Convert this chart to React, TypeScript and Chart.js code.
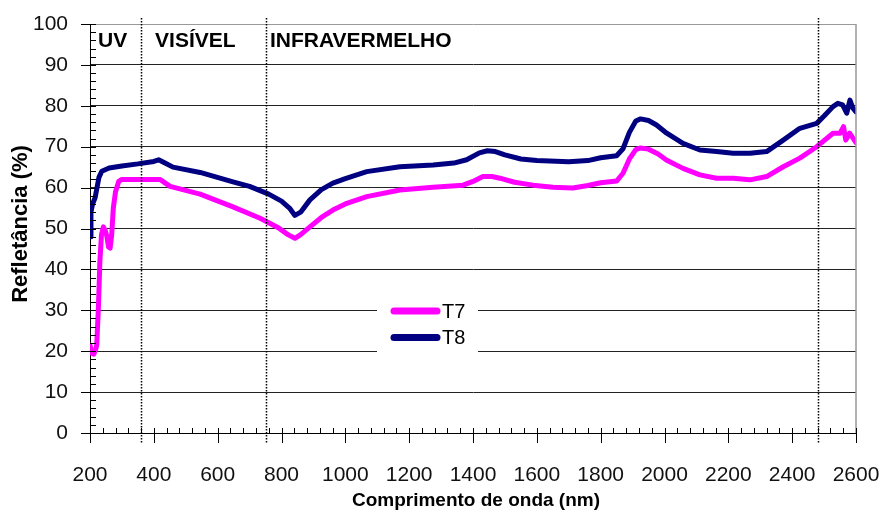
import React, { useEffect, useRef } from "react";
import { Chart, registerables } from "chart.js";

Chart.register(...registerables);

// ---- Data ----
const SERIES_LABELS = ["T7", "T8"];
const SERIES_COLORS = ["#FF00FF", "#000080"];

const T7_NM = [200, 205, 212, 218, 221, 226, 231, 236, 242, 248, 253, 258, 263, 268, 273, 280, 290, 300, 357, 419, 451, 545, 648, 733, 790, 820, 842, 860, 889, 925, 961, 1000, 1067, 1171, 1275, 1369, 1400, 1431, 1460, 1484, 1530, 1588, 1650, 1713, 1760, 1800, 1850, 1870, 1890, 1910, 1925, 1950, 1980, 2007, 2058, 2111, 2163, 2215, 2268, 2320, 2372, 2424, 2477, 2528, 2550, 2561, 2568, 2580, 2600];
const T7_R = [21.5, 19.5, 19.3, 20.5, 21.5, 30, 42, 48.5, 50.4, 49.5, 48, 45.5, 45.2, 48.5, 55, 59, 61.5, 62, 62, 62, 60.3, 58.4, 55.3, 52.5, 50.2, 48.5, 47.6, 48.5, 50.4, 52.7, 54.5, 56, 57.8, 59.4, 60.1, 60.6, 61.5, 62.7, 62.7, 62.3, 61.3, 60.6, 60.1, 59.9, 60.5, 61.2, 61.6, 63.5, 67, 69.3, 69.7, 69.4, 68.2, 66.7, 64.7, 63.1, 62.3, 62.3, 61.9, 62.7, 65.1, 67.2, 70, 73.3, 73.3, 74.9, 71.6, 73.3, 71];

const T8_NM = [200, 203, 208, 216, 222, 228, 237, 260, 300, 350, 400, 415, 435, 460, 545, 648, 700, 760, 800, 825, 842, 860, 889, 925, 961, 1000, 1067, 1171, 1275, 1340, 1380, 1420, 1445, 1470, 1500, 1550, 1600, 1700, 1760, 1800, 1850, 1870, 1890, 1910, 1925, 1950, 1975, 2007, 2058, 2111, 2163, 2215, 2268, 2320, 2372, 2424, 2477, 2500, 2528, 2543, 2558, 2571, 2581, 2590, 2600];
const T8_R = [48, 54, 56, 57.5, 60, 62.5, 64, 64.8, 65.3, 65.8, 66.4, 66.8, 66, 65, 63.7, 61.4, 60.3, 58.4, 56.7, 55, 53.2, 54, 57, 59.5, 61.1, 62.2, 63.9, 65.1, 65.5, 66, 66.8, 68.5, 69, 68.8, 68, 67, 66.6, 66.3, 66.6, 67.3, 67.8, 69.5, 73.5, 76.3, 76.8, 76.4, 75.3, 73.3, 70.8, 69.2, 68.8, 68.4, 68.4, 68.8, 71.6, 74.5, 75.7, 77.5, 79.8, 80.6, 80.2, 78.2, 81.4, 79.5, 78.5];

const X_MIN = 200;
const X_MAX = 2600;
const X_STEP = 200;
const X_MINOR = 40;
const Y_MIN = 0;
const Y_MAX = 100;
const Y_STEP = 10;
const Y_MINOR = 2;

const REGION_BOUNDS = [360, 750, 2480];
const REGION_TEXTS = ["UV", "VISÍVEL", "INFRAVERMELHO"];
const REGION_TEXT_AT = [225, 404, 764];

const X_TITLE = "Comprimento de onda (nm)";
const Y_TITLE = "Refletância (%)";

const FONT = "'Liberation Sans', Arial, Helvetica, sans-serif";

const decorPlugin = {
  id: "decor",
  afterDatasetsDraw(chart: any) {
    const { ctx, chartArea } = chart;
    const xs = chart.scales.x;
    const ys = chart.scales.y;
    const { left, right, top, bottom } = chartArea;
    ctx.save();

    // right border (gray)
    ctx.strokeStyle = "#999";
    ctx.lineWidth = 1.5;
    ctx.beginPath();
    ctx.moveTo(right, top);
    ctx.lineTo(right, bottom);
    ctx.stroke();

    // region boundaries (dotted)
    ctx.strokeStyle = "#000";
    ctx.lineWidth = 1.5;
    ctx.setLineDash([1.5, 1.5]);
    for (const b of REGION_BOUNDS) {
      const px = Math.round(xs.getPixelForValue(b)) + 0.5;
      ctx.beginPath();
      ctx.moveTo(px, top - 6);
      ctx.lineTo(px, bottom + 10);
      ctx.stroke();
    }
    ctx.setLineDash([]);

    // x ticks
    ctx.strokeStyle = "#000";
    ctx.lineWidth = 1;
    for (let v = X_MIN; v <= X_MAX; v += X_MINOR) {
      const px = Math.round(xs.getPixelForValue(v)) + 0.5;
      ctx.beginPath();
      if ((v - X_MIN) % X_STEP === 0) {
        ctx.moveTo(px, bottom - 5);
        ctx.lineTo(px, bottom + 10);
      } else {
        ctx.moveTo(px, bottom - 5);
        ctx.lineTo(px, bottom);
      }
      ctx.stroke();
    }
    // y ticks
    for (let v = Y_MIN; v <= Y_MAX; v += Y_MINOR) {
      const py = Math.round(ys.getPixelForValue(v)) + 0.5;
      ctx.beginPath();
      if ((v - Y_MIN) % Y_STEP === 0) {
        ctx.moveTo(left - 9, py);
        ctx.lineTo(left + 6, py);
      } else {
        ctx.moveTo(left, py);
        ctx.lineTo(left + 6, py);
      }
      ctx.stroke();
    }

    // region labels
    ctx.fillStyle = "#000";
    ctx.font = `bold 21px ${FONT}`;
    ctx.textAlign = "left";
    ctx.textBaseline = "middle";
    REGION_TEXTS.forEach((t, i) => {
      ctx.fillText(t, xs.getPixelForValue(REGION_TEXT_AT[i]), top + 17);
    });

    // axis titles
    ctx.font = `bold 19px ${FONT}`;
    ctx.textAlign = "center";
    ctx.textBaseline = "alphabetic";
    ctx.fillText(X_TITLE, 476, 506);
    ctx.save();
    ctx.translate(27, 224);
    ctx.rotate(-Math.PI / 2);
    ctx.font = `bold 22px ${FONT}`;
    ctx.fillText(Y_TITLE, 0, 0);
    ctx.restore();

    // legend
    const lx = 377, ly = 298, lw = 101, lh = 58;
    ctx.fillStyle = "#fff";
    ctx.fillRect(lx, ly, lw, lh);
    chart.data.datasets.forEach((ds: any, i: number) => {
      const cy = ly + 13 + i * 26.5;
      ctx.strokeStyle = ds.borderColor;
      ctx.lineWidth = 7;
      ctx.lineCap = "round";
      ctx.beginPath();
      ctx.moveTo(lx + 17, cy);
      ctx.lineTo(lx + 60, cy);
      ctx.stroke();
      ctx.fillStyle = "#000";
      ctx.font = `20px ${FONT}`;
      ctx.textAlign = "left";
      ctx.textBaseline = "middle";
      ctx.fillText(ds.label, lx + 65, cy + 1);
    });

    ctx.restore();
  },
};

export default function App() {
  const ref = useRef<HTMLCanvasElement | null>(null);

  useEffect(() => {
    document.body.style.margin = "0";
    const canvas = ref.current;
    if (!canvas) return;
    const toPts = (xs: number[], ys: number[]) => xs.map((x, i) => ({ x, y: ys[i] }));
    const chart = new Chart(canvas, {
      type: "line",
      data: {
        datasets: [
          {
            label: SERIES_LABELS[0],
            data: toPts(T7_NM, T7_R),
            borderColor: SERIES_COLORS[0],
            backgroundColor: SERIES_COLORS[0],
            borderWidth: 5,
            pointRadius: 0,
            tension: 0,
            borderJoinStyle: "round",
            borderCapStyle: "round",
          },
          {
            label: SERIES_LABELS[1],
            data: toPts(T8_NM, T8_R),
            borderColor: SERIES_COLORS[1],
            backgroundColor: SERIES_COLORS[1],
            borderWidth: 5,
            pointRadius: 0,
            tension: 0,
            borderJoinStyle: "round",
            borderCapStyle: "round",
          },
        ],
      },
      options: {
        responsive: false,
        animation: false,
        devicePixelRatio: 1,
        layout: { padding: { top: 24, right: 24, left: 0, bottom: 0 } },
        plugins: { legend: { display: false }, tooltip: { enabled: false } },
        scales: {
          x: {
            type: "linear",
            min: X_MIN,
            max: X_MAX,
            afterFit: (s: any) => {
              s.height = 78;
              s.paddingLeft = 0;
              s.paddingRight = 0;
            },
            ticks: {
              stepSize: X_STEP,
              autoSkip: false,
              maxRotation: 0,
              padding: 30,
              color: "#111",
              font: { family: FONT, size: 21 },
              callback: (v: any) => String(v),
            },
            grid: { display: false, drawTicks: false },
            border: { display: true, color: "#000", width: 1 },
            title: { display: false },
          },
          y: {
            min: Y_MIN,
            max: Y_MAX,
            afterFit: (s: any) => {
              s.width = 90;
              s.paddingTop = 0;
              s.paddingBottom = 0;
            },
            ticks: {
              stepSize: Y_STEP,
              padding: 22,
              color: "#111",
              font: { family: FONT, size: 21 },
              callback: (v: any) => String(v),
            },
            grid: {
              drawTicks: false,
              lineWidth: 1,
              color: (c: any) => (c.tick && c.tick.value === Y_MAX ? "#999" : "#222"),
            },
            border: { display: true, color: "#000", width: 1 },
            title: { display: false },
          },
        },
      } as any,
      plugins: [decorPlugin],
    });
    return () => chart.destroy();
  }, []);

  return (
    <div style={{ width: 880, height: 511, background: "#fff" }}>
      <canvas ref={ref} width={880} height={511} style={{ display: "block" }} />
    </div>
  );
}
